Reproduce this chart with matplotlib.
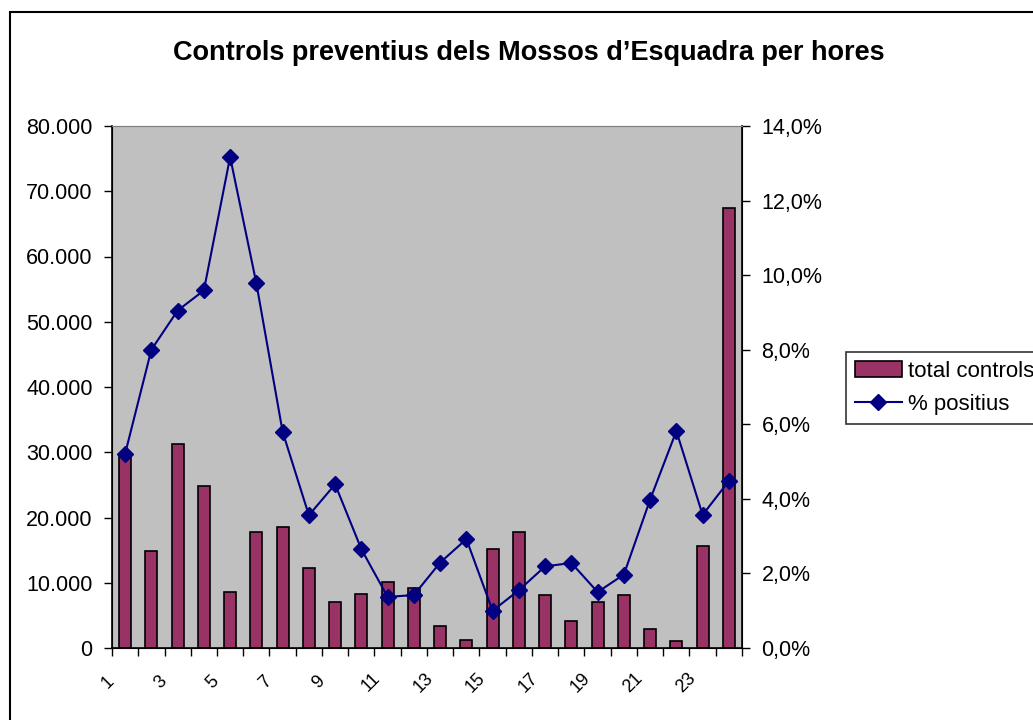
import matplotlib.pyplot as plt
import matplotlib.ticker as mticker
from matplotlib.patches import Rectangle
from matplotlib.transforms import ScaledTranslation

plt.rcParams['font.family'] = ['Liberation Sans', 'DejaVu Sans']

hores = list(range(1, 25))
total_controls = [29600, 14900, 31300, 24800, 8600, 17800, 18600, 12300,
                  7100, 8200, 10100, 9200, 3400, 1300, 15200, 17800,
                  8100, 4200, 7100, 8100, 2900, 1000, 15600, 67400]
pct_positius = [5.21, 8.0, 9.05, 9.59, 13.17, 9.78, 5.8, 3.56,
                4.39, 2.65, 1.37, 1.42, 2.29, 2.92, 1.0, 1.55,
                2.19, 2.28, 1.5, 1.97, 3.98, 5.82, 3.57, 4.48]

fig = plt.figure(figsize=(10.33, 7.2), dpi=100)
ax = fig.add_axes([112/1033, 1-648/720, 630/1033, 522/720])
ax.set_facecolor('#C0C0C0')

bars = ax.bar(hores, total_controls, width=0.45, color='#993366',
              edgecolor='black', linewidth=1.2, label='total controls', zorder=2)
ax.set_xlim(0.5, 24.5)
ax.set_ylim(0, 80000)
ax.set_yticks(range(0, 80001, 10000))
ax.yaxis.set_major_formatter(mticker.FuncFormatter(
    lambda v, p: f'{int(v):,}'.replace(',', '.')))
ax.tick_params(axis='y', labelsize=15.5, length=6, width=1, direction='out', pad=8)

# category boundary ticks, labels on odd hours
ax.set_xticks([h + 0.5 for h in range(0, 25)])
ax.set_xticklabels([])
ax.tick_params(axis='x', which='major', length=6, width=1, direction='out')
ax.set_xticks(hores[::2], minor=True)
ax.set_xticklabels([str(h) for h in hores[::2]], minor=True, rotation=45,
                   ha='center', va='center', rotation_mode='anchor', fontsize=13)
ax.tick_params(axis='x', which='minor', length=0, pad=25)
shift = ScaledTranslation(-17/100, 0, fig.dpi_scale_trans)
for lab in ax.get_xticklabels(minor=True):
    lab.set_transform(lab.get_transform() + shift)

ax.spines['top'].set_color('#808080')
for s in ['left', 'bottom']:
    ax.spines[s].set_linewidth(1.2)

ax2 = ax.twinx()
line, = ax2.plot(hores, pct_positius, color='#000080', lw=1.5, marker='D',
                 markersize=8, label='% positius', zorder=3)
ax2.set_ylim(0, 14)
ax2.set_yticks(range(0, 15, 2))
ax2.yaxis.set_major_formatter(mticker.FuncFormatter(
    lambda v, p: f'{v:.1f}%'.replace('.', ',')))
ax2.tick_params(axis='y', labelsize=15.5, length=6, width=1, direction='out', pad=8)
ax2.spines['right'].set_linewidth(1.2)
ax2.spines['top'].set_color('#808080')

fig.text(529/1033, 1-53/720, 'Controls preventius dels Mossos d\u2019Esquadra per hores',
         ha='center', va='center', fontsize=19.5, fontweight='bold')

leg = fig.legend([bars, line], ['total controls', '% positius'],
                 loc='upper left', bbox_to_anchor=(846/1033, 1-352/720),
                 fontsize=16, frameon=True, fancybox=False, edgecolor='black',
                 borderpad=0.4, handlelength=2.1, handletextpad=0.3,
                 labelspacing=0.55, borderaxespad=0)
leg.get_frame().set_linewidth(1.2)

fig.patches.append(Rectangle((10/1033, -0.1), 1.2, 1.1 - 12/720,
                             transform=fig.transFigure, fill=False,
                             edgecolor='black', linewidth=1.5))

fig.savefig('out.png', dpi=100)
